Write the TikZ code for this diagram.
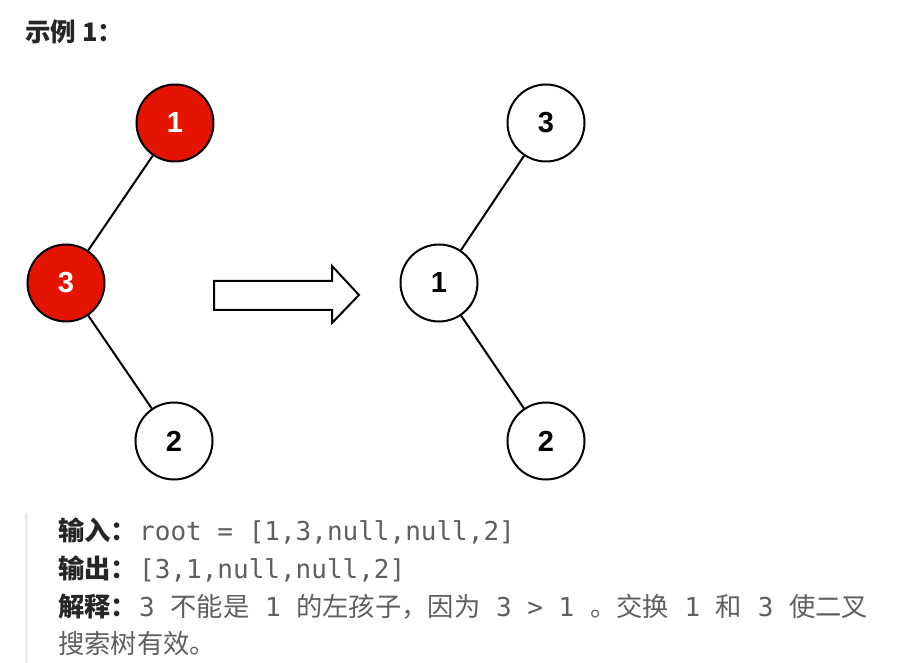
\documentclass[tikz,border=0pt]{standalone}
\usepackage{fontspec}
\setmainfont{Liberation Sans}
\newfontfamily\cjkfont{Noto Sans CJK SC}
\newfontfamily\monofont{DejaVu Sans Mono}
\definecolor{nodered}{RGB}{229,20,0}
\definecolor{txtgray}{RGB}{95,95,95}
\definecolor{lblcol}{RGB}{38,38,38}
\definecolor{barcol}{RGB}{234,234,234}
\newcommand{\Mx}[1]{{\monofont\fontsize{26}{30}\selectfont\color{txtgray}\relax#1}}
\newcommand{\Cx}[1]{{\cjkfont\fontsize{26.3}{30}\selectfont\color{txtgray}\relax#1}}
\newcommand{\Lx}[1]{{\cjkfont\bfseries\fontsize{26.3}{30}\selectfont\color{lblcol}\relax#1}}
\begin{document}
\begin{tikzpicture}[x=1pt,y=-1pt,
  treenode/.style={circle,draw=black,line width=2pt,minimum size=77pt,inner sep=0pt,
    font=\fontsize{29}{29}\selectfont\bfseries},
  rednode/.style={treenode,fill=nodered,text=white},
  whitenode/.style={treenode,fill=white,text=black},
  edge/.style={line width=2pt,draw=black},
  txt/.style={anchor=base west,inner sep=0pt}]
\useasboundingbox (0,0) rectangle (898,663);
\fill[white] (0,0) rectangle (898,663);
% title
\node[txt] (title) at (25,42) {\cjkfont\bfseries\fontsize{25.5}{28}\selectfont\color{lblcol}示例 1：};
% left tree
\node[rednode] (a1) at (175,123) {1};
\node[rednode] (a3) at (66,283) {3};
\node[whitenode] (a2) at (174,441) {2};
\draw[edge] (a1) -- (a3);
\draw[edge] (a3) -- (a2);
% arrow
\draw[line width=2pt,fill=white] (214,281) -- (332,281) -- (332,266) -- (359,295) -- (332,323) -- (332,310) -- (214,310) -- cycle;
% right tree
\node[whitenode] (b3) at (546,123) {3};
\node[whitenode] (b1) at (439,283) {1};
\node[whitenode] (b2) at (546,441) {2};
\draw[edge] (b3) -- (b1);
\draw[edge] (b1) -- (b2);
% quote bar
\fill[barcol] (25,513) rectangle (28,663);
% text
\node[txt] (l1) at (58,540) {\Lx{输入：}};
\node[txt] (t1) at (139,540) {\Mx{root = [1,3,null,null,2]}};
\node[txt] (l2) at (58,578) {\Lx{输出：}};
\node[txt] (t2) at (139,578) {\Mx{[3,1,null,null,2]}};
\node[txt] (l3) at (58,616) {\Lx{解释：}};
\node[txt] (t3) at (139,616) {\Mx{3 }\Cx{不能是}\Mx{ 1 }\Cx{的左孩子，因为}\Mx{ 3 > 1 }\Cx{。交换}\Mx{ 1 }\Cx{和}\Mx{ 3 }\Cx{使二叉}};
\node[txt] (t4) at (58,653) {\Cx{搜索树有效。}};
\end{tikzpicture}
\end{document}
